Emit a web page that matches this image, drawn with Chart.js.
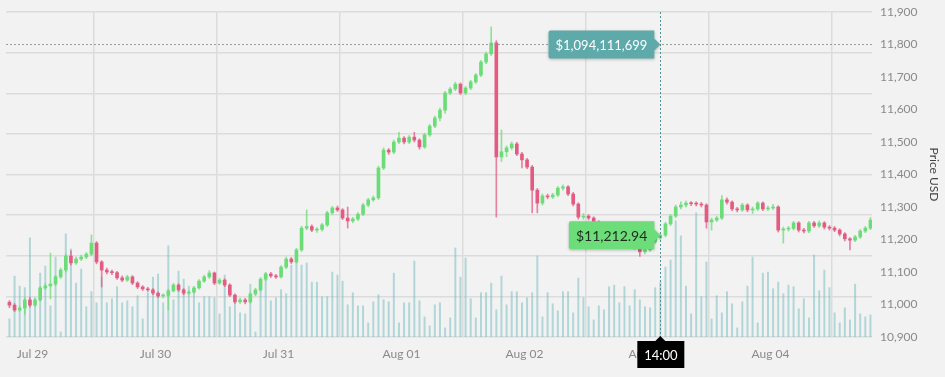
<!DOCTYPE html>
<html>
<head>
<meta charset="utf-8">
<script src="https://cdn.jsdelivr.net/npm/chart.js@4.4.0/dist/chart.umd.min.js"></script>
<style>
  html, body { margin: 0; padding: 0; background: #f2f2f2; }
  canvas { display: block; }
</style>
</head>
<body>
<canvas id="priceChart" width="945" height="377"></canvas>
<script>
// hourly candles, first one is Jul 29 07:00 (hours counted from Jul 29 00:00)
var firstHour = 7;
var dayLabels = ['Jul 29', 'Jul 30', 'Jul 31', 'Aug 01', 'Aug 02', 'Aug 03', 'Aug 04'];
var priceLabels = [10900, 11000, 11100, 11200, 11300, 11400, 11500, 11600, 11700, 11800, 11900];
var gridLevels = [10900, 11025, 11150, 11275, 11400, 11525, 11650, 11775, 11900];

var opens = [
  11007,10998,10983,10989,11014,10998,11014,11051,11057,11063,
  11085,11106,11149,11128,11140,11146,11155,11189,11131,11106,
  11100,11098,11082,11075,11085,11066,11054,11048,11045,11035,
  11026,11028,11042,11060,11045,11035,11038,11051,11072,11085,
  11097,11066,11075,11060,11029,11008,11014,11008,11032,11045,
  11078,11094,11088,11085,11115,11140,11131,11168,11235,11240,
  11229,11231,11245,11282,11297,11291,11266,11257,11263,11278,
  11306,11322,11328,11420,11475,11469,11500,11512,11500,11515,
  11506,11485,11522,11549,11574,11598,11651,11663,11678,11651,
  11666,11685,11706,11746,11771,11805,11454,11470,11482,11494,
  11463,11445,11423,11352,11312,11334,11331,11337,11358,11362,
  11340,11309,11269,11272,11266,11254,11242,11229,11220,11211,
  11198,11192,11183,11177,11162,11168,11192,11205,11212.94,11248,
  11272,11300,11306,11312,11310,11309,11306,11254,11260,11266,
  11322,11315,11294,11291,11306,11291,11294,11312,11294,11297,
  11300,11229,11232,11234,11251,11229,11226,11251,11242,11251,
  11238,11235,11229,11217,11202,11198,11208,11226,11235
];
var highs = [
  11012,11003,10995,11020,11022,11018,11056,11064,11158,11090,
  11112,11155,11165,11146,11152,11160,11214,11194,11135,11112,
  11106,11102,11088,11090,11089,11070,11058,11053,11049,11039,
  11033,11047,11065,11064,11049,11043,11056,11077,11090,11104,
  11100,11081,11079,11064,11033,11020,11019,11037,11050,11083,
  11099,11099,11093,11120,11146,11145,11173,11241,11291,11245,
  11237,11250,11287,11302,11303,11295,11300,11268,11283,11311,
  11327,11334,11426,11482,11480,11506,11530,11517,11520,11530,
  11510,11527,11554,11580,11604,11656,11668,11684,11682,11671,
  11690,11711,11751,11777,11854,11812,11537,11488,11500,11499,
  11468,11450,11428,11357,11340,11340,11342,11363,11368,11366,
  11345,11313,11280,11277,11270,11258,11246,11234,11225,11215,
  11203,11197,11188,11181,11174,11197,11210,11218,11253,11277,
  11306,11316,11318,11317,11316,11314,11310,11266,11272,11335,
  11328,11319,11299,11311,11310,11300,11317,11316,11303,11308,
  11304,11238,11240,11256,11255,11234,11256,11256,11257,11255,
  11243,11240,11233,11221,11206,11213,11231,11240,11268
];
var lows = [
  10990,10978,10979,10970,10992,10994,11010,11046,11017,11058,
  11080,11100,11122,11123,11135,11141,11150,11125,11054,11094,
  11092,11077,11070,11071,11061,11049,11043,11040,11030,11021,
  11020,10983,11038,11040,11030,11031,11034,11047,11068,11080,
  11061,11062,11055,11024,11003,11003,11002,11004,11027,11040,
  11073,11083,11080,11081,11110,11126,11127,11163,11230,11224,
  11222,11226,11240,11277,11286,11261,11235,11252,11258,11273,
  11301,11317,11323,11415,11462,11464,11495,11494,11495,11500,
  11478,11480,11517,11544,11565,11589,11646,11658,11646,11645,
  11661,11680,11701,11741,11766,11269,11440,11455,11476,11458,
  11420,11418,11282,11282,11306,11325,11326,11332,11352,11335,
  11303,11263,11262,11260,11248,11236,11223,11214,11205,11192,
  11186,11177,11170,11148,11156,11163,11187,11200,11208,11243,
  11267,11294,11300,11304,11303,11300,11235,11229,11255,11261,
  11309,11289,11285,11286,11285,11280,11289,11289,11289,11292,
  11223,11189,11226,11229,11223,11220,11221,11237,11237,11232,
  11229,11224,11211,11196,11168,11193,11203,11221,11230
];
var closes = [
  10998,10983,10989,11014,10998,11014,11051,11057,11063,11085,
  11106,11149,11128,11140,11146,11155,11189,11131,11106,11100,
  11098,11082,11075,11085,11066,11054,11048,11045,11035,11026,
  11028,11042,11060,11045,11035,11038,11051,11072,11085,11097,
  11066,11075,11060,11029,11008,11014,11008,11032,11045,11078,
  11094,11088,11085,11115,11140,11131,11168,11235,11240,11229,
  11231,11245,11282,11297,11291,11266,11257,11263,11278,11306,
  11322,11328,11420,11475,11469,11500,11512,11500,11515,11506,
  11485,11522,11549,11574,11598,11651,11663,11678,11651,11666,
  11685,11706,11746,11771,11805,11454,11470,11482,11494,11463,
  11445,11423,11352,11312,11334,11331,11337,11358,11362,11340,
  11309,11269,11272,11266,11254,11242,11229,11220,11211,11198,
  11192,11183,11177,11162,11168,11192,11205,11212.94,11248,11272,
  11300,11306,11312,11310,11309,11306,11254,11260,11266,11322,
  11315,11294,11291,11306,11291,11294,11312,11294,11297,11300,
  11229,11232,11234,11251,11229,11226,11251,11242,11251,11238,
  11235,11229,11217,11202,11198,11208,11226,11235,11260
];
// volume in billions of USD
var volumes = [
  0.36,1.21,1.01,0.98,1.97,0.78,1.27,1.41,0.62,1.59,
  0.10,2.05,1.75,1.07,1.35,0.60,0.90,0.68,1.19,0.68,
  0.76,1.00,0.68,0.72,0.60,0.82,0.36,0.88,1.19,1.25,
  0.68,1.81,0.74,1.31,1.15,1.01,0.88,0.68,0.80,0.80,
  0.78,0.46,1.23,0.60,0.68,0.48,0.46,1.05,0.10,1.09,
  1.27,0.72,0.78,0.94,0.86,1.43,1.53,1.43,1.47,1.09,
  1.09,0.80,0.80,1.29,1.23,1.11,0.64,0.88,0.62,0.62,
  0.28,0.70,0.84,0.74,0.70,1.27,0.28,0.68,0.68,1.51,
  0.72,0.40,0.22,0.64,0.68,0.18,0.38,1.77,1.19,1.57,
  0.76,0.38,0.88,0.88,1.07,0.54,1.21,0.64,0.90,0.90,
  0.68,0.78,0.88,1.61,0.40,0.88,0.66,0.52,0.90,0.90,
  0.48,1.17,0.78,0.60,0.34,0.62,0.54,1.00,1.03,0.68,
  1.00,0.62,0.94,0.74,0.60,0.58,0.98,1.094111699,1.39,1.53,
  2.31,2.01,1.01,0.46,2.47,0.80,1.49,0.36,0.82,0.48,
  0.90,0.66,0.18,0.70,1.01,1.59,0.28,1.27,1.29,0.96,
  1.09,0.86,1.03,1.00,0.56,0.76,0.38,1.63,0.92,1.33,
  0.98,0.48,0.28,0.58,0.34,1.05,0.46,0.40,0.44
];

// hovered candle: Aug 03 14:00, mouse resting on the 11,800 level
var hoverHour = 134;
var hoverPrice = 11800;

var upColor = '#6bdc77';
var downColor = '#e35b82';
var gridColor = '#dcdcdc';
var fontFamily = 'Lato, "Open Sans", sans-serif';

function hourPos(i) { return firstHour + i + 0.5; }

var candleColors = closes.map(function(c, i) { return c >= opens[i] ? upColor : downColor; });
var wickColors = closes.map(function(c, i) { return c >= opens[i] ? 'rgba(107,220,119,0.75)' : 'rgba(227,91,130,0.75)'; });

var priceTicks = priceLabels.concat(gridLevels.filter(function(v) { return priceLabels.indexOf(v) < 0; }))
  .sort(function(a, b) { return a - b; });
var timeTicks = [];
for (var d = 0; d <= dayLabels.length; d++) {
  if (d > 0) timeTicks.push(d * 24);
  if (d < dayLabels.length) timeTicks.push(d * 24 + 12);
}

function money(v, digits) {
  return '$' + v.toLocaleString('en-US', { minimumFractionDigits: digits, maximumFractionDigits: digits });
}

function drawTag(ctx, text, tipX, cy, bg, fg, size) {
  ctx.font = size + 'px ' + fontFamily;
  var w = ctx.measureText(text).width + 14;
  var h = 28;
  var right = tipX - 6;
  ctx.save();
  ctx.shadowColor = 'rgba(0,0,0,0.25)';
  ctx.shadowBlur = 3;
  ctx.shadowOffsetY = 1;
  ctx.fillStyle = bg;
  ctx.beginPath();
  ctx.moveTo(right - w + 2, cy - h / 2);
  ctx.lineTo(right, cy - h / 2);
  ctx.lineTo(right, cy - 6);
  ctx.lineTo(tipX, cy);
  ctx.lineTo(right, cy + 6);
  ctx.lineTo(right, cy + h / 2);
  ctx.lineTo(right - w + 2, cy + h / 2);
  ctx.quadraticCurveTo(right - w, cy + h / 2, right - w, cy + h / 2 - 2);
  ctx.lineTo(right - w, cy - h / 2 + 2);
  ctx.quadraticCurveTo(right - w, cy - h / 2, right - w + 2, cy - h / 2);
  ctx.fill();
  ctx.restore();
  ctx.fillStyle = fg;
  ctx.textAlign = 'center';
  ctx.textBaseline = 'middle';
  ctx.fillText(text, right - w / 2, cy + 1);
}

var crosshair = {
  id: 'crosshair',
  afterDraw: function(chart) {
    var ctx = chart.ctx;
    var area = chart.chartArea;
    var x = chart.scales.x.getPixelForValue(hoverHour + 0.5);
    var hy = chart.scales.y.getPixelForValue(hoverPrice);
    var idx = hoverHour - firstHour;
    var py = chart.scales.y.getPixelForValue(closes[idx]);
    ctx.save();
    ctx.lineWidth = 1;
    ctx.setLineDash([2, 2]);
    ctx.strokeStyle = '#9c9c9c';
    ctx.beginPath();
    ctx.moveTo(area.left, Math.round(hy) + 0.5);
    ctx.lineTo(area.right, Math.round(hy) + 0.5);
    ctx.stroke();
    ctx.strokeStyle = '#4f9597';
    ctx.beginPath();
    ctx.moveTo(Math.round(x) + 0.5, area.top);
    ctx.lineTo(Math.round(x) + 0.5, area.bottom);
    ctx.stroke();
    ctx.setLineDash([]);

    drawTag(ctx, money(volumes[idx] * 1e9, 0), x, hy, '#5ea9aa', '#ffffff', 13);
    drawTag(ctx, money(closes[idx], 2), x, py, '#6ddd79', '#1f2a20', 14);

    // time tag under the axis
    var bw = 47, bh = 27, top = area.bottom + 4;
    ctx.fillStyle = '#000000';
    ctx.beginPath();
    ctx.moveTo(x - 5, top);
    ctx.lineTo(x, top - 5);
    ctx.lineTo(x + 5, top);
    ctx.fill();
    ctx.fillRect(x - 23, top, bw, bh);
    ctx.fillStyle = '#ffffff';
    ctx.font = '13px ' + fontFamily;
    ctx.textAlign = 'center';
    ctx.textBaseline = 'middle';
    ctx.fillText((hoverHour % 24) + ':00', x + 0.5, top + bh / 2 + 1);
    ctx.restore();
  }
};

var ctx = document.getElementById('priceChart').getContext('2d');
var chart = new Chart(ctx, {
  type: 'bar',
  data: {
    datasets: [{
      label: 'Volume',
      data: volumes.map(function(v, i) { return { x: hourPos(i), y: v }; }),
      yAxisID: 'yv',
      backgroundColor: 'rgba(110,185,190,0.5)',
      barThickness: 1.3,
      grouped: false,
      order: 3
    }, {
      label: 'Wick',
      data: closes.map(function(c, i) { return { x: hourPos(i), y: [lows[i], highs[i]] }; }),
      yAxisID: 'y',
      backgroundColor: wickColors,
      barThickness: 1,
      grouped: false,
      order: 2
    }, {
      label: 'Price',
      data: closes.map(function(c, i) { return { x: hourPos(i), y: [opens[i], c] }; }),
      yAxisID: 'y',
      backgroundColor: candleColors,
      barThickness: 3,
      minBarLength: 1,
      grouped: false,
      order: 1
    }]
  },
  options: {
    responsive: false,
    animation: false,
    events: [],
    layout: { padding: { left: 6, top: 12, right: 0, bottom: 0 } },
    plugins: {
      legend: { display: false },
      tooltip: { enabled: false }
    },
    scales: {
      x: {
        type: 'linear',
        min: 6.83,
        max: 175.8,
        offset: false,
        afterBuildTicks: function(scale) {
          scale.ticks = timeTicks.map(function(v) { return { value: v }; });
        },
        afterFit: function(scale) { scale.height = 40; },
        ticks: {
          autoSkip: false,
          maxRotation: 0,
          padding: 10,
          color: '#8a8a8a',
          font: { family: fontFamily, size: 12 },
          callback: function(v) { return v % 24 === 12 ? dayLabels[(v - 12) / 24] : ''; }
        },
        grid: {
          offset: false,
          drawTicks: false,
          lineWidth: 1.5,
          color: function(c) { return c.tick && c.tick.value % 24 === 0 ? gridColor : 'rgba(0,0,0,0)'; }
        },
        border: { display: false }
      },
      y: {
        position: 'right',
        min: 10900,
        max: 11900,
        afterBuildTicks: function(scale) {
          scale.ticks = priceTicks.map(function(v) { return { value: v }; });
        },
        afterFit: function(scale) {
          scale.width = 73;
          scale.paddingTop = 0;
          scale.paddingBottom = 0;
        },
        ticks: {
          autoSkip: false,
          padding: 8,
          color: '#8a8a8a',
          font: { family: fontFamily, size: 12 },
          callback: function(v) { return priceLabels.indexOf(v) >= 0 ? v.toLocaleString('en-US') : ''; }
        },
        grid: {
          drawTicks: false,
          lineWidth: 1.5,
          color: function(c) { return c.tick && gridLevels.indexOf(c.tick.value) >= 0 ? gridColor : 'rgba(0,0,0,0)'; }
        },
        border: { display: false },
        title: {
          display: true,
          text: 'Price USD',
          color: '#444444',
          font: { family: fontFamily, size: 12 },
          padding: { top: 4, bottom: 0 }
        }
      },
      yv: {
        display: false,
        min: 0,
        max: 6.46
      }
    }
  },
  plugins: [crosshair]
});
</script>
</body>
</html>
